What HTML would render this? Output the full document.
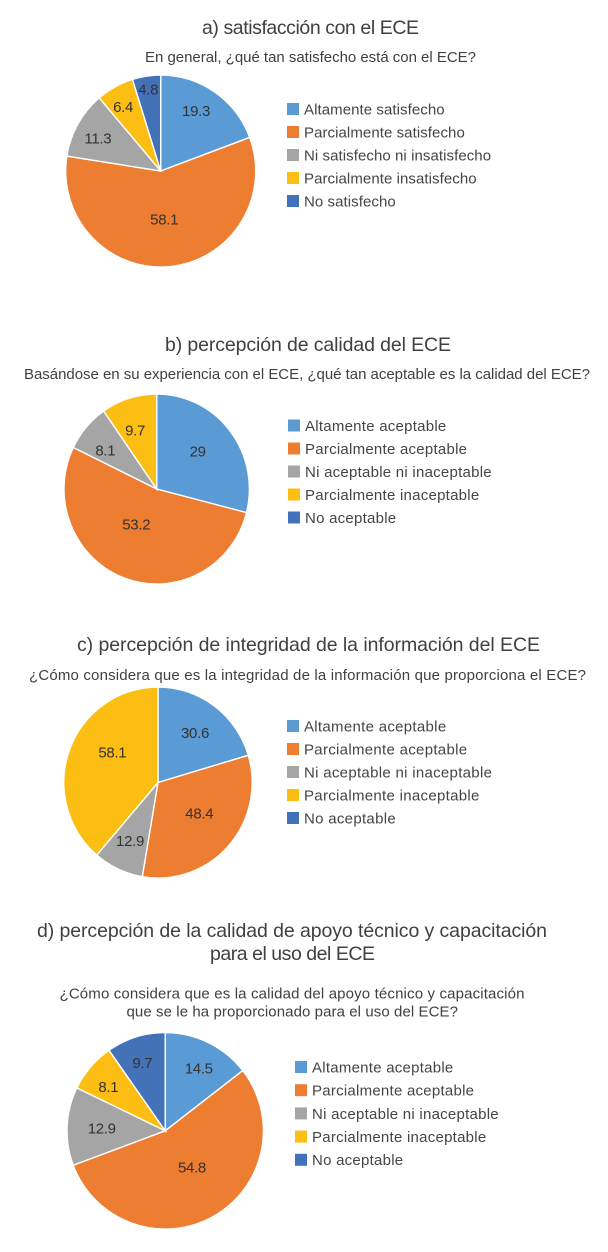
<!DOCTYPE html>
<html lang="es">
<head>
<meta charset="utf-8">
<title>Percepción del ECE</title>
<style>
  html, body { margin: 0; padding: 0; background: #fff; }
  body { width: 608px; height: 1252px; overflow: hidden; }
  svg { display: block; font-family: "Liberation Sans", sans-serif; }
  .title { font-size: 19.5px; fill: #404040; }
  .subtitle { font-size: 15px; fill: #404040; }
  .legend-text { font-size: 15px; fill: #454545; }
  .value { font-size: 15px; fill: #333; text-anchor: middle; letter-spacing: -.3px; }
</style>
</head>
<body>
<svg id="chart-root" width="608" height="1252" viewBox="0 0 608 1252" xmlns="http://www.w3.org/2000/svg">
  <rect width="608" height="1252" fill="#fff"/>

  <text class="title" x="202" y="34" textLength="217" lengthAdjust="spacing">a) satisfacción con el ECE</text>
  <text class="subtitle" x="145" y="62" textLength="331" lengthAdjust="spacing">En general, ¿qué tan satisfecho está con el ECE?</text>

  <text class="title" x="165" y="351" textLength="286" lengthAdjust="spacing">b) percepción de calidad del ECE</text>
  <text class="subtitle" x="24" y="379" textLength="566" lengthAdjust="spacing">Basándose en su experiencia con el ECE, ¿qué tan aceptable es la calidad del ECE?</text>

  <text class="title" x="77" y="651" textLength="463" lengthAdjust="spacing">c) percepción de integridad de la información del ECE</text>
  <text class="subtitle" x="29" y="680" textLength="557" lengthAdjust="spacing">¿Cómo considera que es la integridad de la información que proporciona el ECE?</text>

  <text class="title" x="37" y="937" textLength="510" lengthAdjust="spacing">d) percepción de la calidad de apoyo técnico y capacitación</text>
  <text class="title" x="210" y="960" textLength="165" lengthAdjust="spacing">para el uso del ECE</text>
  <text class="subtitle" x="59.5" y="998.5" textLength="465" lengthAdjust="spacing">¿Cómo considera que es la calidad del apoyo técnico y capacitación</text>
  <text class="subtitle" x="126.5" y="1016.5" textLength="331.5" lengthAdjust="spacing">que se le ha proporcionado para el uso del ECE?</text>
</svg>

<script>
const categoriesSatisfaction = ["Altamente satisfecho", "Parcialmente satisfecho", "Ni satisfecho ni insatisfecho", "Parcialmente insatisfecho", "No satisfecho"];
const categoriesAcceptance = ["Altamente aceptable", "Parcialmente aceptable", "Ni aceptable ni inaceptable", "Parcialmente inaceptable", "No aceptable"];
const valuesA = [19.3, 58.1, 11.3, 6.4, 4.8];
const valuesB = [29, 53.2, 8.1, 9.7, 0];
const valuesC = [30.6, 48.4, 12.9, 58.1, 0];
const valuesD = [14.5, 54.8, 12.9, 8.1, 9.7];
const sliceColors = ["#5B9BD5", "#ED7D31", "#A5A5A5", "#FDBE14", "#4472B8"];

const SVG_NS = "http://www.w3.org/2000/svg";
const root = document.getElementById("chart-root");

function drawPie(prefix, values, categories, geom) {
  const group = document.createElementNS(SVG_NS, "g");
  
  
  root.appendChild(group);

  const total = values.reduce(function (a, b) { return a + b; }, 0);
  let cumulative = 0;

  values.forEach(function (value, i) {
    if (value <= 0) return;
    const a0 = cumulative / total * 2 * Math.PI;
    cumulative += value;
    const a1 = cumulative / total * 2 * Math.PI;
    const x0 = geom.cx + geom.rx * Math.sin(a0);
    const y0 = geom.cy - geom.ry * Math.cos(a0);
    const x1 = geom.cx + geom.rx * Math.sin(a1);
    const y1 = geom.cy - geom.ry * Math.cos(a1);
    const large = a1 - a0 > Math.PI ? 1 : 0;

    const slice = document.createElementNS(SVG_NS, "path");
    slice.setAttribute("d", "M" + geom.cx + " " + geom.cy + "L" + x0 + " " + y0 +
      "A" + geom.rx + " " + geom.ry + " 0 " + large + " 1 " + x1 + " " + y1 + "Z");
    slice.setAttribute("fill", sliceColors[i]);
    slice.setAttribute("stroke", "#fff");
    slice.setAttribute("stroke-width", "1.4");
    
    
    group.appendChild(slice);
  });

  cumulative = 0;
  values.forEach(function (value, i) {
    if (value <= 0) return;
    const mid = (cumulative + value / 2) / total * 2 * Math.PI;
    cumulative += value;
    const f = geom.labelRadius[i];
    const shift = geom.labelNudge[i];
    const label = document.createElementNS(SVG_NS, "text");
    label.setAttribute("class", "value");
    label.setAttribute("x", geom.cx + f * geom.rx * Math.sin(mid) + shift[0]);
    label.setAttribute("y", geom.cy - f * geom.ry * Math.cos(mid) + shift[1]);
    label.setAttribute("dy", ".35em");
    label.textContent = String(value);
    
    
    group.appendChild(label);
  });

  categories.forEach(function (name, i) {
    const rowY = geom.legendY + i * geom.legendStep;
    const swatch = document.createElementNS(SVG_NS, "rect");
    swatch.setAttribute("x", geom.legendX);
    swatch.setAttribute("y", rowY - 6);
    swatch.setAttribute("width", 12);
    swatch.setAttribute("height", 12);
    swatch.setAttribute("fill", sliceColors[i]);
    
    
    root.appendChild(swatch);

    const text = document.createElementNS(SVG_NS, "text");
    text.setAttribute("class", "legend-text");
    text.setAttribute("x", geom.legendX + 17);
    text.setAttribute("y", rowY);
    text.setAttribute("dy", ".36em");
    text.setAttribute("letter-spacing", geom.legendSpacing);
    text.textContent = name;
    
    
    root.appendChild(text);
  });
}

drawPie("chart-a", valuesA, categoriesSatisfaction, {
  cx: 160.7, cy: 171, rx: 95, ry: 96,
  labelRadius: [.73, .5, .74, .78, .875],
  labelNudge: [[-4.2, -2.7], [-1.3, .6], [-1.5, 2.1], [-1.9, 1.1], [0, 1.3]],
  legendX: 287, legendY: 109, legendStep: 23, legendSpacing: .07
});
drawPie("chart-b", valuesB, categoriesAcceptance, {
  cx: 156.7, cy: 489, rx: 92.7, ry: 95,
  labelRadius: [.6, .43, .69, .66, .7],
  labelNudge: [[-3, -3], [-6.7, -3], [-2.7, 4], [-3.3, 1], [0, 0]],
  legendX: 288, legendY: 425.5, legendStep: 23, legendSpacing: .25
});
drawPie("chart-c", valuesC, categoriesAcceptance, {
  cx: 158, cy: 782.5, rx: 94.2, ry: 95.5,
  labelRadius: [.65, .54, .69, .57, .7],
  labelNudge: [[.4, 0], [3.2, -3.4], [-.4, -1.2], [4.7, -11.3], [0, 0]],
  legendX: 287, legendY: 726, legendStep: 23, legendSpacing: .3
});
drawPie("chart-d", valuesD, categoriesAcceptance, {
  cx: 165.2, cy: 1130.8, rx: 98.2, ry: 98.2,
  labelRadius: [.72, .47, .65, .73, .73],
  labelNudge: [[2.4, 1], [4.3, -3.8], [.3, .5], [-2.4, 2.4], [-1.4, .3]],
  legendX: 295, legendY: 1067, legendStep: 23.2, legendSpacing: .25
});
</script>
</body>
</html>
